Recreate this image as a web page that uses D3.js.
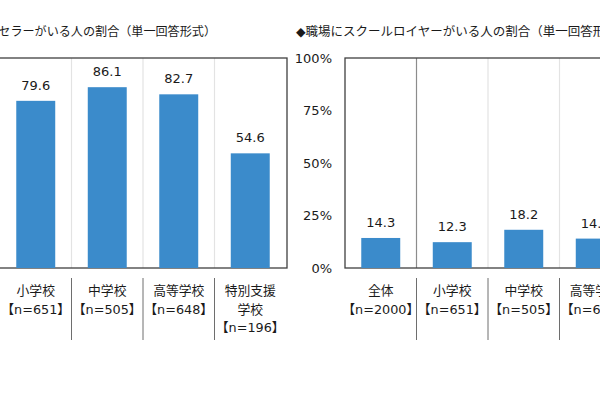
<!DOCTYPE html>
<html>
<head>
<meta charset="utf-8">
<script src="https://cdn.jsdelivr.net/npm/d3@7"></script>
<style>
  body { margin: 0; background: #fff; }
  svg { display: block; font-family: "DejaVu Sans", "Noto Sans CJK JP", sans-serif; }
</style>
</head>
<body>
<div id="chart"></div>
<script>
// left panel: school counselor (first category 全体 is cut off in the source)
const counselorCats = ['小学校', '中学校', '高等学校', '特別支援学校'];
const counselorVals = [79.6, 86.1, 82.7, 54.6];
const counselorLabels = [['小学校', '【n=651】'], ['中学校', '【n=505】'], ['高等学校', '【n=648】'], ['特別支援', '学校', '【n=196】']];

// right panel: school lawyer (cut off on the right)
const lawyerCats = ['全体', '小学校', '中学校', '高等学校'];
const lawyerVals = [14.3, 12.3, 18.2, 14.0];
const lawyerLabels = [['全体', '【n=2000】'], ['小学校', '【n=651】'], ['中学校', '【n=505】'], ['高等学校', '【n=648】']];

const yTicks = [0, 25, 50, 75, 100];

const width = 600;
const height = 397;
const plotTop = 58, plotBottom = 268;
const band = 71.5;
const barColor = '#3b8bcb';

const svg = d3.select('#chart').append('svg')
  .attr('width', width)
  .attr('height', height);

const yScale = d3.scaleLinear().domain([0, 100]).range([plotBottom, plotTop]);

function drawPanel(opts) {
  const { x0, cats, vals, labels, title, titleX, titleAnchor, titleSize, firstSepDark } = opts;
  const xScale = d3.scaleBand()
    .domain(cats)
    .range([x0, x0 + band * cats.length])
    .paddingInner(0.455)
    .paddingOuter(0.2275);

  const g = svg.append('g');

  // gridlines between categories
  const seps = cats.slice(1).map((c) => xScale(c) - xScale.step() * xScale.paddingInner() / 2);
  g.selectAll('line.grid')
    .data(seps)
    .join('line')
    .attr('class', 'grid')
    .attr('x1', (d) => d).attr('x2', (d) => d)
    .attr('y1', plotTop).attr('y2', plotBottom)
    .attr('stroke', (d, i) => (firstSepDark && i === 0) ? '#8c8c8c' : '#e3e3e3')
    .attr('stroke-width', 1.2);

  // frame
  g.append('rect')
    .attr('x', opts.frameX)
    .attr('y', plotTop)
    .attr('width', opts.frameW)
    .attr('height', plotBottom - plotTop)
    .attr('fill', 'none')
    .attr('stroke', '#404040')
    .attr('stroke-width', 1.3);

  g.selectAll('rect.bar')
    .data(vals)
    .join('rect')
    .attr('class', 'bar')
    .attr('x', (d, i) => xScale(cats[i]))
    .attr('width', xScale.bandwidth())
    .attr('y', (d) => yScale(d))
    .attr('height', (d) => yScale(0) - yScale(d))
    .attr('fill', barColor);

  g.selectAll('text.val')
    .data(vals)
    .join('text')
    .attr('class', 'val')
    .attr('x', (d, i) => xScale(cats[i]) + xScale.bandwidth() / 2)
    .attr('y', (d) => yScale(d) - 11)
    .attr('text-anchor', 'middle')
    .attr('font-size', 13)
    .attr('fill', '#1a1a1a')
    .text((d) => d.toFixed(1));

  // category labels
  labels.forEach((lines, i) => {
    const cx = xScale(cats[i]) + xScale.bandwidth() / 2;
    g.append('text')
      .attr('text-anchor', 'middle')
      .attr('font-size', 12.8)
      .attr('fill', '#1a1a1a')
      .selectAll('tspan')
      .data(lines)
      .join('tspan')
      .attr('x', cx)
      .attr('y', (d, j) => 295 + j * 18.5)
      .text((d) => d);
  });

  // separators under axis
  g.selectAll('line.sep')
    .data(seps)
    .join('line')
    .attr('class', 'sep')
    .attr('x1', (d) => d).attr('x2', (d) => d)
    .attr('y1', 278).attr('y2', 340)
    .attr('stroke', '#6e6e6e')
    .attr('stroke-width', 1);

  svg.append('text')
    .attr('x', titleX)
    .attr('y', 36)
    .attr('text-anchor', titleAnchor)
    .attr('font-size', titleSize)
    .attr('fill', '#1a1a1a')
    .text(title);

  return xScale;
}

drawPanel({
  x0: 0,
  cats: counselorCats,
  vals: counselorVals,
  labels: counselorLabels,
  frameX: -80,
  frameW: 367,
  title: '◆職場にスクールカウンセラーがいる人の割合（単一回答形式）',
  titleX: 216,
  titleAnchor: 'end',
  titleSize: 12.1,
  firstSepDark: false
});

drawPanel({
  x0: 345,
  cats: lawyerCats,
  vals: lawyerVals,
  labels: lawyerLabels,
  frameX: 345,
  frameW: 400,
  title: '◆職場にスクールロイヤーがいる人の割合（単一回答形式）',
  titleX: 296,
  titleAnchor: 'start',
  titleSize: 12.5,
  firstSepDark: true
});

// y axis of right panel
const yAxis = d3.axisLeft(yScale)
  .tickValues(yTicks)
  .tickFormat((d) => d + '%')
  .tickSize(0)
  .tickPadding(0);

const ax = svg.append('g')
  .attr('transform', 'translate(332,0)')
  .call(yAxis);
ax.select('.domain').remove();
ax.selectAll('text')
  .attr('font-size', 13)
  .attr('font-family', '"DejaVu Sans", sans-serif')
  .attr('fill', '#1a1a1a');
</script>
</body>
</html>
